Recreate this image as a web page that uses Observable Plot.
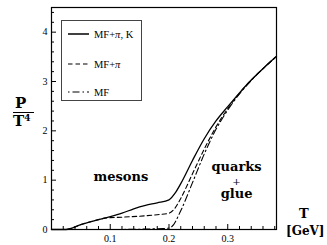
<!DOCTYPE html>
<html><head><meta charset="utf-8">
<script src="https://cdn.jsdelivr.net/npm/d3@7"></script>
<script src="https://cdn.jsdelivr.net/npm/@observablehq/plot@0.6"></script>
<style>
body{margin:0;background:#fff;}
#wrap{position:relative;width:327px;height:245px;overflow:hidden;background:#fff;}
.lab{position:absolute;color:#000;font-family:"DejaVu Serif",serif;font-weight:bold;line-height:1;white-space:nowrap;}
#legend{position:absolute;left:61px;top:20px;width:81px;height:81px;border:1.3px solid #444;box-sizing:border-box;background:#fff;font-family:"Liberation Serif",serif;font-size:10.5px;}
#legend .row{position:absolute;left:6px;height:12px;display:flex;align-items:center;}
#legend svg{margin-right:5px;}
</style></head><body><div id="wrap"></div>
<script>
// Series: MF+pi,K (solid)
const tK = [0, 0.025, 0.05, 0.08, 0.1, 0.12, 0.14, 0.16, 0.18, 0.2, 0.21, 0.22, 0.24, 0.26, 0.28, 0.3, 0.32, 0.34, 0.36, 0.383];
const pK = [0, 0, 0.1, 0.2, 0.26, 0.33, 0.42, 0.49, 0.54, 0.6, 0.73, 0.93, 1.4, 1.84, 2.2, 2.49, 2.77, 3.03, 3.26, 3.51];
// Series: MF+pi (dashed)
const tPi = [0, 0.025, 0.05, 0.08, 0.09, 0.1, 0.12, 0.15, 0.18, 0.2, 0.21, 0.22, 0.24, 0.26, 0.28, 0.3, 0.32, 0.34, 0.36, 0.383];
const pPi = [0, 0, 0.1, 0.2, 0.23, 0.24, 0.25, 0.27, 0.3, 0.33, 0.43, 0.63, 1.13, 1.63, 2.08, 2.45, 2.76, 3.03, 3.26, 3.51];
// Series: MF (dash-dot)
const tMF = [0, 0.1, 0.19, 0.2, 0.205, 0.22, 0.24, 0.26, 0.28, 0.3, 0.32, 0.34, 0.36, 0.383];
const pMF = [0, 0, 0.02, 0.03, 0.06, 0.38, 0.95, 1.53, 2.03, 2.42, 2.75, 3.02, 3.26, 3.51];

const seriesNames = ["MF+\u03c0, K", "MF+\u03c0", "MF"];
const xMajor = [0.1, 0.2, 0.3];
const xMinor = [0.02, 0.04, 0.06, 0.08, 0.12, 0.14, 0.16, 0.18, 0.22, 0.24, 0.26, 0.28, 0.32, 0.34, 0.36, 0.38];
const yMajor = [0, 1, 2, 3, 4];
const yMinor = [0.2, 0.4, 0.6, 0.8, 1.2, 1.4, 1.6, 1.8, 2.2, 2.4, 2.6, 2.8, 3.2, 3.4, 3.6, 3.8, 4.2, 4.4];

const toRows = (ts, ps) => ts.map((t, i) => ({T: t, P: ps[i]}));
const rowsK = toRows(tK, pK), rowsPi = toRows(tPi, pPi), rowsMF = toRows(tMF, pMF);

const serif = "Liberation Serif, serif";
const chart = Plot.plot({
  width: 327, height: 245,
  marginLeft: 51, marginRight: 51, marginTop: 7, marginBottom: 16,
  x: {domain: [0, 0.383]},
  y: {domain: [0, 4.5]},
  style: {fontFamily: serif, fontSize: "10px", background: "#fff", color: "#000"},
  marks: [
    Plot.line(rowsMF, {x: "T", y: "P", stroke: "#000", strokeWidth: 1.1, strokeDasharray: "1.5,3,7,3", curve: "monotone-x"}),
    Plot.line(rowsPi, {x: "T", y: "P", stroke: "#000", strokeWidth: 1.1, strokeDasharray: "4.5,3", curve: "monotone-x"}),
    Plot.line(rowsK, {x: "T", y: "P", stroke: "#000", strokeWidth: 1.3, curve: "monotone-x"}),
    Plot.axisX({ticks: xMajor, tickSize: 0, tickPadding: 5, tickFormat: d => d.toFixed(1), label: null, fontFamily: serif}),
    Plot.axisX({ticks: xMajor, tickSize: -5, text: null, label: null}),
    Plot.axisX({ticks: xMinor, tickSize: -3, text: null, label: null}),
    Plot.axisY({ticks: yMajor, tickSize: 0, tickPadding: 4, tickFormat: d => String(d), label: null, fontFamily: serif}),
    Plot.axisY({ticks: yMajor, tickSize: -5, text: null, label: null}),
    Plot.axisY({ticks: yMinor, tickSize: -3, text: null, label: null}),
    Plot.frame({stroke: "#000", strokeWidth: 1.2}),
    Plot.text(["mesons"], {x: 0.118, y: 1.06, fontFamily: "DejaVu Serif, serif", fontWeight: "bold", fontSize: 13}),
    Plot.text(["quarks"], {x: 0.315, y: 1.27, fontFamily: "DejaVu Serif, serif", fontWeight: "bold", fontSize: 13}),
    Plot.text(["+"], {x: 0.315, y: 0.97, fontFamily: "DejaVu Serif, serif", fontSize: 10}),
    Plot.text(["glue"], {x: 0.315, y: 0.72, fontFamily: "DejaVu Serif, serif", fontWeight: "bold", fontSize: 13})
  ]
});
const wrap = document.getElementById("wrap");
wrap.appendChild(chart);

// Axis titles
function addLab(html, left, top, size, extra) {
  const d = document.createElement("div");
  d.className = "lab";
  d.innerHTML = html;
  d.style.left = left + "px"; d.style.top = top + "px"; d.style.fontSize = size + "px";
  if (extra) Object.assign(d.style, extra);
  wrap.appendChild(d);
  return d;
}
addLab("P", 15, 96, 15);
const bar = document.createElement("div");
bar.style.cssText = "position:absolute;left:13px;top:112px;width:21px;height:1.3px;background:#000;";
wrap.appendChild(bar);
addLab("T<sup style='font-size:9px;vertical-align:5px'>4</sup>", 13, 114, 15);
addLab("T", 299, 207, 13);
addLab("[GeV]", 286, 225, 12);

// Legend
const leg = document.createElement("div");
leg.id = "legend";
const dashes = [null, "4.5,3", "1.5,3,7,3"];
const rowsTop = [7, 37, 65];
seriesNames.forEach((name, i) => {
  const r = document.createElement("div");
  r.className = "row";
  r.style.top = rowsTop[i] + "px";
  const svg = d3.create("svg").attr("width", 21).attr("height", 6);
  svg.append("line").attr("x1", 0).attr("x2", 21).attr("y1", 3).attr("y2", 3)
    .attr("stroke", "#000").attr("stroke-width", i === 0 ? 1.5 : 1.2)
    .attr("stroke-dasharray", dashes[i]);
  r.appendChild(svg.node());
  const s = document.createElement("span");
  s.innerHTML = name.replace("\u03c0", "<i>\u03c0</i>");
  r.appendChild(s);
  leg.appendChild(r);
});
wrap.appendChild(leg);
</script></body></html>
